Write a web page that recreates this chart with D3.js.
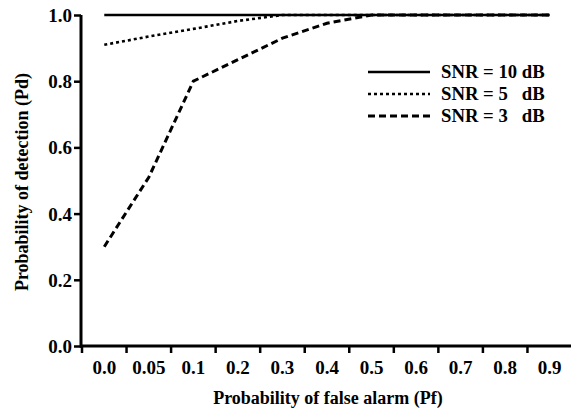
<!DOCTYPE html>
<html>
<head>
<meta charset="utf-8">
<script src="https://cdn.jsdelivr.net/npm/d3@7"></script>
</head>
<body style="margin:0;background:#fff">
<svg id="chart" width="571" height="411"></svg>
<script>
const categories = ["0.0", "0.05", "0.1", "0.2", "0.3", "0.4", "0.5", "0.6", "0.7", "0.8", "0.9"];
const snr10 = [1.0, 1.0, 1.0, 1.0, 1.0, 1.0, 1.0, 1.0, 1.0, 1.0, 1.0];
const snr5  = [0.91, 0.935, 0.958, 0.982, 1.0, 1.0, 1.0, 1.0, 1.0, 1.0, 1.0];
const snr3  = [0.30, 0.51, 0.80, 0.865, 0.93, 0.975, 1.0, 1.0, 1.0, 1.0, 1.0];
const yTicks = [0.0, 0.2, 0.4, 0.6, 0.8, 1.0];
const seriesNames = ["SNR = 10 dB", "SNR = 5   dB", "SNR = 3   dB"];

const FONT = "'Liberation Serif'";
const svg = d3.select("#chart");
const x = d3.scaleBand().domain(categories).range([82, 572]).padding(0);
const y = d3.scaleLinear().domain([0, 1]).range([346, 15]);
const cx = c => x(c) + x.bandwidth() / 2;
const styleText = sel => sel.style("font-family", FONT).style("font-weight", "bold").attr("fill", "#000");

// Y axis
const yAxis = svg.append("g").attr("transform", "translate(81,0)")
  .call(d3.axisLeft(y).tickValues(yTicks).tickFormat(d3.format(".1f")).tickSize(7).tickSizeOuter(0));
yAxis.select(".domain").attr("stroke-width", 3).attr("d", `M0,${y(1)}V${y(0) + 1.5}`);
yAxis.selectAll(".tick line").attr("stroke-width", 2.5);
yAxis.selectAll(".tick text").attr("font-size", 19).attr("x", -9).attr("dy", "0.34em").call(styleText);

// X axis line
svg.append("line").attr("x1", 80).attr("x2", 571).attr("y1", 346).attr("y2", 346)
  .attr("stroke", "#000").attr("stroke-width", 3);
// X ticks at band edges
svg.append("g").selectAll("line").data(categories).join("line")
  .attr("x1", d => x(d)).attr("x2", d => x(d))
  .attr("y1", 346).attr("y2", 353)
  .attr("stroke", "#000").attr("stroke-width", 2.5);
// X labels at band centers
svg.append("g").selectAll("text").data(categories).join("text")
  .attr("x", d => cx(d)).attr("y", 374)
  .attr("text-anchor", "middle").attr("font-size", 19)
  .text(d => d).call(styleText);

// Axis titles
svg.append("text").attr("x", 328).attr("y", 404).attr("text-anchor", "middle")
  .attr("font-size", 18).text("Probability of false alarm (Pf)").call(styleText);
svg.append("text").attr("transform", "translate(28,182) rotate(-90)").attr("text-anchor", "middle")
  .attr("font-size", 18).text("Probability of detection (Pd)").call(styleText);

// Lines
const line = d3.line().x((d, i) => cx(categories[i])).y(d => y(d));
const styles = [
  { data: snr10, dash: null, w: 2.6 },
  { data: snr5, dash: "3,3", w: 2.6 },
  { data: snr3, dash: "7,4", w: 3 }
];
styles.forEach(s => {
  svg.append("path").datum(s.data).attr("d", line)
    .attr("fill", "none").attr("stroke", "#000").attr("stroke-width", s.w)
    .attr("stroke-dasharray", s.dash);
});

// Legend
const lg = svg.append("g");
seriesNames.forEach((name, i) => {
  const ly = 72 + i * 22;
  lg.append("line").attr("x1", 368).attr("x2", 430).attr("y1", ly).attr("y2", ly)
    .attr("stroke", "#000").attr("stroke-width", styles[i].w)
    .attr("stroke-dasharray", styles[i].dash);
  lg.append("text").attr("x", 441).attr("y", ly + 6).attr("font-size", 18.7)
    .style("white-space", "pre").attr("xml:space", "preserve").text(name).call(styleText);
});
</script>
</body>
</html>
